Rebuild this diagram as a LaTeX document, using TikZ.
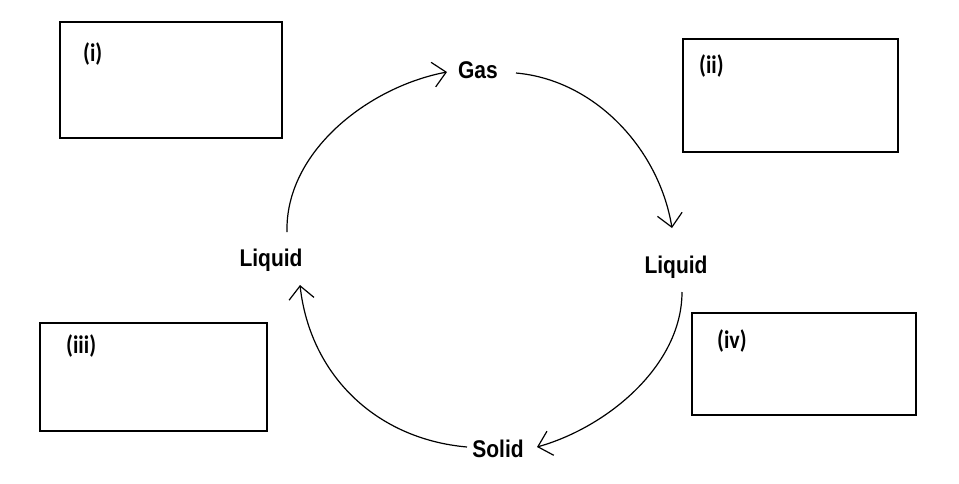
\documentclass[tikz,border=0pt]{standalone}
\usepackage{fontspec}
\setmainfont{Liberation Sans}
\newfontfamily\lblfont{Carlito}
\usetikzlibrary{arrows.meta}
\tikzset{
  phase/.style={inner sep=0pt, anchor=base, font=\fontsize{21}{25}\selectfont\bfseries},
  lbl/.style={inner sep=0pt, anchor=base west, font=\fontsize{22}{26}\selectfont\lblfont\bfseries},
  answerbox/.style={draw, line width=1.5pt},
  arr/.style={line width=1.2pt, -{Straight Barb[length=13pt,width=25pt,line width=1.2pt]}}
}
\newcommand{\tallt}[1]{\scalebox{1}[1.15]{#1}}
\begin{document}
\begin{tikzpicture}[x=1pt,y=-1pt]
\useasboundingbox (0,0) rectangle (959,483);
% boxes
\draw[answerbox] (60,22) rectangle (282,138);
\draw[answerbox] (683,39) rectangle (898,152);
\draw[answerbox] (40,323) rectangle (267,431);
\draw[answerbox] (692,313) rectangle (916,415);
\node[lbl] (l1) at (83,61) {\tallt{(i)}};
\node[lbl] (l2) at (699,73) {\tallt{(ii)}};
\node[lbl] (l3) at (66,353) {\tallt{(iii)}};
\node[lbl] (l4) at (717,348) {\tallt{(iv)}};
% phases
\node[phase] (gas) at (478,78) {\tallt{Gas}};
\node[phase] (liqR) at (676,273) {\tallt{Liquid}};
\node[phase] (solid) at (498,457) {\tallt{Solid}};
\node[phase] (liqL) at (271,266) {\tallt{Liquid}};
% arrow ends
\coordinate (a1s) at (516,73);
\coordinate (a1e) at (672,228);
\coordinate (a2s) at (682,292);
\coordinate (a2e) at (537,447);
\coordinate (a3s) at (467,447);
\coordinate (a3e) at (300,285);
\coordinate (a4s) at (287,232);
\coordinate (a4e) at (447,72);
\draw[arr] (a1s) .. controls (595,80) and (659,149) .. (a1e);
\draw[arr] (a2s) .. controls (682,365) and (608,427) .. (a2e);
\draw[arr] (a3s) .. controls (376,439) and (310,375) .. (a3e);
\draw[arr] (a4s) .. controls (285,152) and (368,87) .. (a4e);
\end{tikzpicture}
\end{document}
